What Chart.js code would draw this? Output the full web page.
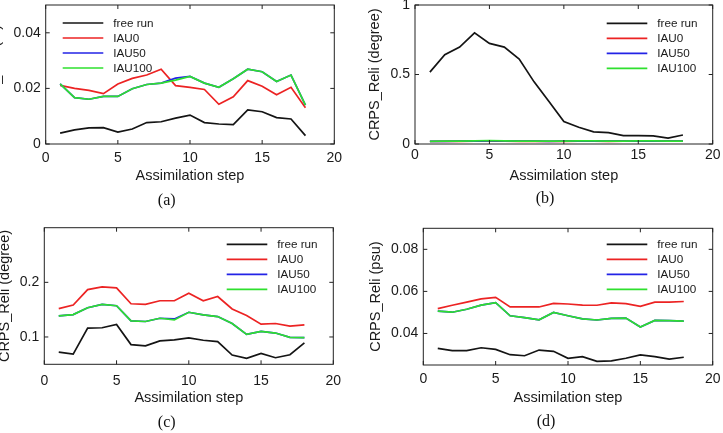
<!DOCTYPE html>
<html><head><meta charset="utf-8">
<script src="https://cdn.jsdelivr.net/npm/chart.js@4.4.1/dist/chart.umd.min.js"></script>
<style>
html,body{margin:0;padding:0;background:#fff;width:723px;height:433px;overflow:hidden;position:relative}
canvas{position:absolute}
.cap{position:absolute;font-family:'Liberation Serif','DejaVu Serif',serif;font-size:16px;color:#111;transform:translate(-50%,-50%);white-space:nowrap}
</style></head><body>
<canvas id="ca" width="381" height="215" style="left:-20px;top:0px"></canvas>
<canvas id="cb" width="362" height="215" style="left:361px;top:0px"></canvas>
<canvas id="cc" width="381" height="218" style="left:-20px;top:215px"></canvas>
<canvas id="cd" width="362" height="218" style="left:361px;top:215px"></canvas>
<div class="cap" style="left:166.7px;top:200px">(a)</div>
<div class="cap" style="left:545px;top:198px">(b)</div>
<div class="cap" style="left:166.7px;top:421.5px">(c)</div>
<div class="cap" style="left:546px;top:421px">(d)</div>
<script>
const steps = [1,2,3,4,5,6,7,8,9,10,11,12,13,14,15,16,17,18];
const seriesNames = ['free run','IAU0','IAU50','IAU100'];
const xTicks = [0,5,10,15,20];

// (a)
const aFree   = [0.0039,0.0051,0.0058,0.0059,0.0043,0.0054,0.0077,0.0080,0.0093,0.0104,0.0077,0.0072,0.0070,0.0123,0.0116,0.0095,0.0090,0.0030];
const aIAU0   = [0.0211,0.0200,0.0193,0.0181,0.0216,0.0236,0.0248,0.0269,0.0210,0.0204,0.0196,0.0143,0.0170,0.0228,0.0208,0.0177,0.0204,0.0130];
const aIAU50  = [0.0216,0.0167,0.0161,0.0171,0.0171,0.0199,0.0214,0.0219,0.0237,0.0243,0.0219,0.0204,0.0235,0.0269,0.0260,0.0225,0.0248,0.0140];
const aIAU100 = [0.0216,0.0167,0.0161,0.0171,0.0171,0.0199,0.0214,0.0219,0.0230,0.0243,0.0219,0.0204,0.0235,0.0269,0.0260,0.0225,0.0248,0.0140];
const aYTicks = [0,0.02,0.04];

// (b)
const bFree   = [0.517,0.642,0.697,0.800,0.724,0.697,0.611,0.447,0.305,0.161,0.120,0.087,0.082,0.060,0.060,0.058,0.043,0.065];
const bIAU0   = [0.018,0.019,0.019,0.020,0.021,0.020,0.019,0.019,0.018,0.019,0.020,0.020,0.019,0.020,0.020,0.020,0.020,0.020];
const bIAU50  = [0.019,0.019,0.020,0.021,0.023,0.022,0.020,0.020,0.019,0.020,0.021,0.022,0.020,0.021,0.021,0.021,0.021,0.021];
const bIAU100 = [0.019,0.020,0.020,0.022,0.025,0.023,0.021,0.020,0.020,0.020,0.022,0.023,0.021,0.021,0.022,0.022,0.021,0.021];
const bYTicks = [0,0.5,1];

// (c)
const cFree   = [0.0723,0.0687,0.1163,0.1169,0.1229,0.0861,0.0837,0.0928,0.0946,0.0982,0.0940,0.0916,0.0669,0.0608,0.0699,0.0620,0.0675,0.0892];
const cIAU0   = [0.1518,0.1584,0.1867,0.1916,0.1898,0.1608,0.1596,0.1663,0.1663,0.1801,0.1663,0.1741,0.1512,0.1392,0.1235,0.1247,0.1199,0.1223];
const cIAU50  = [0.1386,0.1410,0.1536,0.1596,0.1572,0.1295,0.1283,0.1343,0.1330,0.1452,0.1404,0.1373,0.1247,0.1048,0.1102,0.1072,0.0994,0.0988];
const cIAU100 = [0.1386,0.1410,0.1536,0.1596,0.1572,0.1295,0.1283,0.1343,0.1313,0.1452,0.1404,0.1373,0.1247,0.1048,0.1102,0.1072,0.0994,0.0988];
const cYTicks = [0.1,0.2];

// (d)
const dFree   = [0.0329,0.0318,0.0318,0.0332,0.0324,0.0299,0.0294,0.0321,0.0315,0.0282,0.0290,0.0267,0.0270,0.0282,0.0298,0.0290,0.0278,0.0287];
const dIAU0   = [0.0518,0.0534,0.0549,0.0564,0.0572,0.0526,0.0526,0.0526,0.0543,0.0540,0.0535,0.0534,0.0545,0.0542,0.0529,0.0549,0.0549,0.0552];
const dIAU50  = [0.0506,0.0501,0.0515,0.0535,0.0547,0.0484,0.0475,0.0465,0.0500,0.0484,0.0469,0.0464,0.0472,0.0473,0.0431,0.0462,0.0461,0.0459];
const dIAU100 = [0.0506,0.0501,0.0515,0.0535,0.0547,0.0484,0.0475,0.0465,0.0500,0.0484,0.0469,0.0464,0.0472,0.0473,0.0431,0.0462,0.0461,0.0459];
const dYTicks = [0.04,0.06,0.08];

const lineColors = ['#141414','#ec2323','#2323e6','#2ee02e'];
const fontFam = "'Liberation Sans', Arial, Helvetica, sans-serif";
const inkColor = '#1a1a1a';

function pts(vals){ return steps.map((s,i)=>({x:s,y:vals[i]})); }

const framePlugin = {
  id:'frame',
  afterDatasetsDraw(chart, args, opts){
    const {ctx, chartArea:a, scales} = chart;
    const x = scales.x, y = scales.y;
    ctx.save();
    ctx.strokeStyle = '#222';
    ctx.lineWidth = 1;
    ctx.strokeRect(a.left, a.top, a.right-a.left, a.bottom-a.top);
    const L = 4;
    ctx.beginPath();
    x.ticks.forEach(t=>{
      const px = x.getPixelForValue(t.value);
      ctx.moveTo(px,a.bottom); ctx.lineTo(px,a.bottom-L);
      ctx.moveTo(px,a.top); ctx.lineTo(px,a.top+L);
    });
    y.ticks.forEach(t=>{
      const py = y.getPixelForValue(t.value);
      ctx.moveTo(a.left,py); ctx.lineTo(a.left+L,py);
      ctx.moveTo(a.right,py); ctx.lineTo(a.right-L,py);
    });
    ctx.stroke();
    // legend
    const lg = opts.legend;
    if (lg) {
      const x0 = lg.side === 'left' ? a.left + lg.dx : a.right - lg.dx;
      const y0 = a.top + lg.dy;
      ctx.font = '11.7px ' + fontFam;
      ctx.textBaseline = 'middle';
      ctx.textAlign = 'left';
      chart.data.datasets.forEach((ds,i)=>{
        const yy = y0 + i*15;
        ctx.beginPath();
        ctx.strokeStyle = ds.borderColor;
        ctx.lineWidth = 1.7;
        ctx.moveTo(x0, yy); ctx.lineTo(x0+40.6, yy);
        ctx.stroke();
        ctx.fillStyle = inkColor;
        ctx.fillText(ds.label, x0+50.6, yy+0.5);
      });
    }
    ctx.restore();
  }
};

function zeroPad(s){ s.paddingLeft = 0; s.paddingRight = 0; s.paddingTop = 0; s.paddingBottom = 0; }

function panel(id, series, cfg){
  const cv = document.getElementById(id);
  const W = cv.width, H = cv.height;
  const datasets = series.map((vals,i)=>({
    label: seriesNames[i], data: pts(vals),
    borderColor: lineColors[i], backgroundColor: lineColors[i],
    borderWidth: 1.7, pointRadius: 0, tension: 0, fill: false, order: 3-i
  }));
  new Chart(cv, {
    type:'line',
    data:{datasets},
    options:{
      responsive:false, animation:false, devicePixelRatio:1,
      layout:{padding:{left:0, top:cfg.top, right:W-cfg.right, bottom:0}},
      plugins:{legend:{display:false}, tooltip:{enabled:false}, frame:{legend:cfg.legend}},
      scales:{
        x:{
          type:'linear', min:0, max:20,
          afterBuildTicks:s=>{ s.ticks = xTicks.map(v=>({value:v})); },
          afterFit:s=>{ s.height = H - cfg.bottom; zeroPad(s); },
          grid:{display:false, drawTicks:false, tickLength:0}, border:{display:false},
          ticks:{padding:cfg.xtp, font:{size:14, family:fontFam}, color:inkColor, maxRotation:0, autoSkip:false, callback:v=>String(v)},
          title:{display:true, text:'Assimilation step', font:{size:14.5, family:fontFam}, color:inkColor, padding:{top:0, bottom:cfg.xtitle}}
        },
        y:{
          type:'linear', min:cfg.ymin, max:cfg.ymax,
          afterBuildTicks:s=>{ s.ticks = cfg.yTicks.map(v=>({value:v})); },
          afterFit:s=>{ s.width = cfg.left; zeroPad(s); },
          grid:{display:false, drawTicks:false, tickLength:0}, border:{display:false},
          ticks:{padding:5, font:{size:14, family:fontFam}, color:inkColor, callback:v=>String(v)},
          title:{display:true, text:cfg.yTitle, font:{size:14.5, family:fontFam}, color:inkColor, padding:{top:cfg.ytitle, bottom:0}}
        }
      }
    },
    plugins:[framePlugin]
  });
}

panel('ca', [aFree,aIAU0,aIAU50,aIAU100], {
  left:65.7, right:354.3, top:5, bottom:144, xtp:6, xtitle:30.3, ytitle:7,
  ymin:0, ymax:0.05, yTicks:aYTicks, yTitle:'CRPS_Reli (m)',
  legend:{side:'left', dx:17, dy:18}
});
panel('cb', [bFree,bIAU0,bIAU50,bIAU100], {
  left:54, right:351.7, top:5, bottom:144, xtp:3, xtitle:30.3, ytitle:5.3,
  ymin:0, ymax:1, yTicks:bYTicks, yTitle:'CRPS_Reli (degree)',
  legend:{side:'right', dx:106, dy:18.3}
});
panel('cc', [cFree,cIAU0,cIAU50,cIAU100], {
  left:64.3, right:353.3, top:12.7, bottom:149.3, xtp:8.5, xtitle:26.3, ytitle:16.3,
  ymin:0.05, ymax:0.3, yTicks:cYTicks, yTitle:'CRPS_Reli (degree)',
  legend:{side:'right', dx:106.6, dy:16.6}
});
panel('cd', [dFree,dIAU0,dIAU50,dIAU100], {
  left:62.3, right:351.7, top:13.3, bottom:150, xtp:5.6, xtitle:26, ytitle:6.3,
  ymin:0.025, ymax:0.09, yTicks:dYTicks, yTitle:'CRPS_Reli (psu)',
  legend:{side:'right', dx:106, dy:16}
});
</script>
</body></html>
